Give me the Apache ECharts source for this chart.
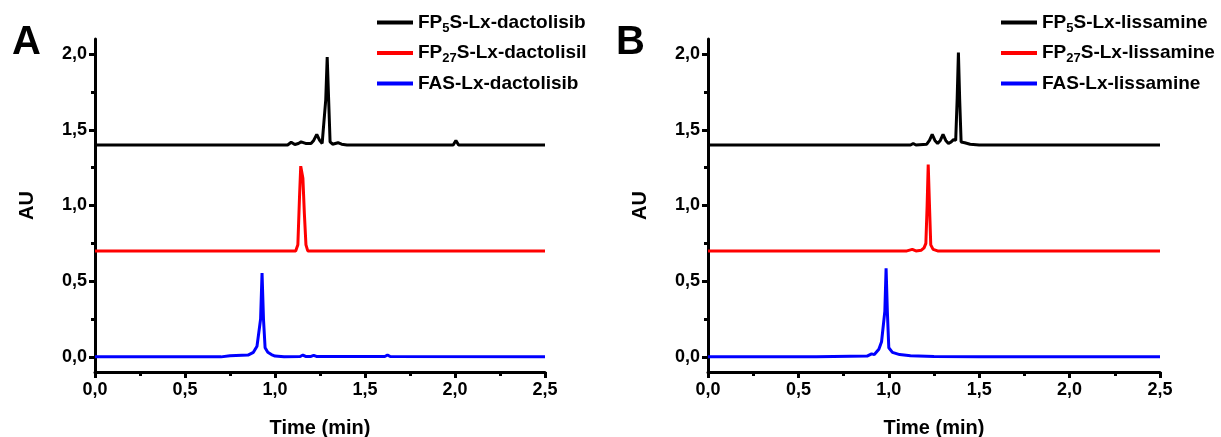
<!DOCTYPE html>
<html>
<head>
<meta charset="utf-8">
<script src="https://cdn.jsdelivr.net/npm/echarts@6/dist/echarts.min.js"></script>
<style>
    html, body { margin: 0; padding: 0; background: #fff; }
    #chart { width: 1221px; height: 437px; }
</style>
</head>
<body>
<div id="chart"></div>
<script>
// time (min), AU
const aBlack = [
    [0, 1.40], [0.5, 1.40], [1.0, 1.40], [1.07, 1.40], [1.09, 1.418], [1.11, 1.403],
    [1.13, 1.41], [1.145, 1.42], [1.17, 1.41], [1.20, 1.41], [1.215, 1.43], [1.232, 1.47],
    [1.248, 1.43], [1.262, 1.41], [1.272, 1.42], [1.282, 1.70], [1.290, 1.98], [1.298, 1.70],
    [1.306, 1.42], [1.32, 1.405], [1.35, 1.415], [1.37, 1.405], [1.40, 1.40], [1.6, 1.40],
    [1.99, 1.40], [2.005, 1.43], [2.02, 1.40], [2.5, 1.40],
]
const aRed = [
    [0, 0.70], [1.0, 0.70], [1.115, 0.70], [1.127, 0.74], [1.136, 1.05], [1.143, 1.26],
    [1.148, 1.27], [1.155, 1.18], [1.163, 0.95], [1.172, 0.74], [1.182, 0.70], [2.5, 0.70],
]
const aBlue = [
    [0, 0], [0.7, 0], [0.75, 0.008], [0.85, 0.012], [0.88, 0.03], [0.90, 0.07], [0.91, 0.06],
    [0.92, 0.25], [0.928, 0.553], [0.936, 0.25], [0.945, 0.06], [0.96, 0.03], [0.98, 0.015],
    [1.0, 0.005], [1.05, 0], [1.14, 0.002], [1.155, 0.012], [1.17, 0.003], [1.2, 0.003],
    [1.215, 0.01], [1.23, 0.003], [1.36, 0.002], [1.37, 0.01], [1.38, 0.002], [1.61, 0.002],
    [1.625, 0.012], [1.64, 0.002], [2.5, 0],
]
const bBlack = [
    [0, 1.40], [1.0, 1.40], [1.12, 1.40], [1.135, 1.41], [1.15, 1.40], [1.21, 1.405],
    [1.225, 1.43], [1.24, 1.47], [1.255, 1.43], [1.27, 1.41], [1.285, 1.43], [1.30, 1.47],
    [1.315, 1.43], [1.33, 1.41], [1.345, 1.42], [1.358, 1.435], [1.37, 1.43], [1.378, 1.70],
    [1.385, 2.01], [1.392, 1.70], [1.40, 1.42], [1.42, 1.415], [1.45, 1.405], [1.5, 1.40],
    [2.5, 1.40],
]
const bRed = [
    [0, 0.70], [1.1, 0.70], [1.13, 0.71], [1.15, 0.70], [1.18, 0.705], [1.195, 0.72],
    [1.205, 0.75], [1.212, 1.0], [1.218, 1.27], [1.225, 1.0], [1.232, 0.74], [1.245, 0.71],
    [1.27, 0.70], [2.5, 0.70],
]
const bBlue = [
    [0, 0], [0.58, 0], [0.59, 0.006], [0.6, 0], [0.88, 0.005], [0.905, 0.02], [0.92, 0.015],
    [0.945, 0.05], [0.96, 0.10], [0.97, 0.09], [0.978, 0.3], [0.985, 0.585], [0.992, 0.3],
    [1.0, 0.06], [1.02, 0.03], [1.06, 0.015], [1.12, 0.008], [1.25, 0.003], [1.5, 0], [2.5, 0],
]

const namesA = ["FP5S-Lx-dactolisib", "FP27S-Lx-dactolisil", "FAS-Lx-dactolisib"]
const namesB = ["FP5S-Lx-lissamine", "FP27S-Lx-lissamine", "FAS-Lx-lissamine"]
const majorTicks = [0, 0.5, 1.0, 1.5, 2.0]
const minorTicks = [0.25, 0.75, 1.25, 1.75]
const colors = ["#000000", "#ff0000", "#0000ff"]

const font = "Liberation Sans, Arial, sans-serif"
const comma = (v) => v.toFixed(1).replace(".", ",")

// FP5S -> FP{s|5}S
function legendLabel(name) {
    let m = name.match(/^FP(\d+)(.*)$/)
    if (!m) return "{a|" + name + "}"
    return "{a|FP}{s|" + m[1] + "}{a|" + m[2] + "}"
}

const legendText = {
    fontFamily: font,
    rich: {
        a: { fontSize: 19, fontWeight: "bold", color: "#000", fontFamily: font },
        s: { fontSize: 13, fontWeight: "bold", color: "#000", fontFamily: font, padding: [11, 0, 0, 0] },
    },
}

function xAxis(gridIndex) {
    return {
        type: "value",
        gridIndex: gridIndex,
        min: 0,
        max: 2.5,
        interval: 0.5,
        name: "Time (min)",
        nameLocation: "middle",
        nameGap: 46,
        nameTextStyle: { fontFamily: font, fontSize: 20, fontWeight: "bold", color: "#000" },
        axisLine: { onZero: false, lineStyle: { color: "#000", width: 3 } },
        axisTick: { length: 6, lineStyle: { color: "#000", width: 3 } },
        minorTick: { show: true, splitNumber: 2, length: 4, lineStyle: { color: "#000", width: 3 } },
        axisLabel: { formatter: comma, margin: 9, fontFamily: font, fontSize: 18, fontWeight: "bold", color: "#000" },
        splitLine: { show: false },
    }
}

function yMajor(gridIndex) {
    return {
        type: "value",
        gridIndex: gridIndex,
        position: "left",
        min: -0.1,
        max: 2.1,
        name: "AU",
        nameLocation: "middle",
        nameGap: 58,
        nameTextStyle: { fontFamily: font, fontSize: 20, fontWeight: "bold", color: "#000" },
        axisLine: { onZero: false, lineStyle: { color: "#000", width: 3 } },
        axisTick: { customValues: majorTicks, length: 6, lineStyle: { color: "#000", width: 3 } },
        axisLabel: { customValues: majorTicks, formatter: comma, margin: 8, fontFamily: font, fontSize: 18, fontWeight: "bold", color: "#000" },
        splitLine: { show: false },
    }
}

function yMinor(gridIndex) {
    return {
        type: "value",
        gridIndex: gridIndex,
        position: "left",
        min: -0.1,
        max: 2.1,
        axisLine: { show: false, onZero: false },
        axisTick: { customValues: minorTicks, length: 4, lineStyle: { color: "#000", width: 3 } },
        axisLabel: { show: false },
        splitLine: { show: false },
    }
}

function lines(names, datas, xi, yi) {
    return names.map((n, i) => ({
        name: n,
        type: "line",
        xAxisIndex: xi,
        yAxisIndex: yi,
        data: datas[i],
        showSymbol: false,
        symbol: "none",
        smooth: false,
        animation: false,
        lineStyle: { color: colors[i], width: 3 },
        itemStyle: { color: colors[i] },
    }))
}

function legend(names, left) {
    return {
        data: names,
        orient: "vertical",
        left: left,
        top: 8,
        icon: "rect",
        itemWidth: 36,
        itemHeight: 4,
        itemGap: 9,
        formatter: legendLabel,
        textStyle: legendText,
        selectedMode: false,
    }
}

let myChart = echarts.init(document.getElementById("chart"))
myChart.setOption({
    backgroundColor: "#fff",
    animation: false,
    title: [
        { text: "A", left: 7, top: 18, textStyle: { fontFamily: font, fontSize: 40, fontWeight: "bold", color: "#000" } },
        { text: "B", left: 611, top: 18, textStyle: { fontFamily: font, fontSize: 40, fontWeight: "bold", color: "#000" } },
    ],
    legend: [legend(namesA, 372), legend(namesB, 996)],
    grid: [
        { left: 95, right: 676, top: 39, bottom: 65, containLabel: false, outerBoundsMode: "none" },
        { left: 708, right: 61, top: 39, bottom: 65, containLabel: false, outerBoundsMode: "none" },
    ],
    xAxis: [xAxis(0), xAxis(1)],
    yAxis: [yMajor(0), yMinor(0), yMajor(1), yMinor(1)],
    series: [
        ...lines(namesA, [aBlack, aRed, aBlue], 0, 0),
        ...lines(namesB, [bBlack, bRed, bBlue], 1, 2),
    ],
})
window.addEventListener("resize", function () {
    myChart.resize()
})
</script>
</body>
</html>
